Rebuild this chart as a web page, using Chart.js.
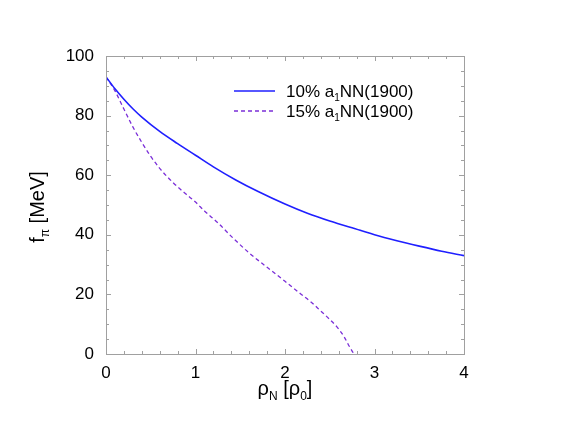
<!DOCTYPE html>
<html>
<head>
<meta charset="utf-8">
<script src="https://cdn.jsdelivr.net/npm/chart.js@4/dist/chart.umd.min.js"></script>
<style>
  body { margin: 0; background: #fff; }
  #wrap { width: 564px; height: 436px; }
</style>
</head>
<body>
<div id="wrap"><canvas id="chart" width="564" height="436"></canvas></div>
<script>
// f_pi vs nuclear density, two a1NN(1900) admixtures
const rho10 = [0, 0.1, 0.2, 0.3, 0.4, 0.6, 0.8, 1.0, 1.2, 1.45, 1.7, 2.0, 2.25, 2.5, 2.84, 3.0, 3.25, 3.5, 3.75, 4.0];
const fpi10 = [93, 89, 85.5, 82.3, 79.5, 74.7, 70.6, 66.7, 62.8, 58.4, 54.5, 50.3, 47.2, 44.6, 41.5, 40, 38, 36.2, 34.5, 33];

const rho15 = [0, 0.1, 0.2, 0.3, 0.4, 0.5, 0.6, 0.75, 0.9, 1.0, 1.1, 1.25, 1.42, 1.6, 1.8, 2.0, 2.17, 2.3, 2.39, 2.5, 2.58, 2.66, 2.72, 2.77];
const fpi15 = [93, 88.3, 82.2, 76.2, 71, 66.3, 62.3, 57.5, 53.5, 51, 48, 44, 38.9, 33.9, 29.1, 24.4, 20.3, 17.2, 14.7, 11.6, 9.1, 5.8, 2.5, 0];

const xTicks = [0, 1, 2, 3, 4];
const yTicks = [0, 20, 40, 60, 80, 100];
const legendLabels = ['10% a', '15% a'];

const FONT = '"Liberation Sans", Arial, Helvetica, sans-serif';

function pts(xs, ys) {
    return xs.map((x, i) => ({ x: x, y: ys[i] }));
}

// text with a subscript part: main, sub, rest
function drawSub(ctx, x, y, main, sub, rest, size) {
    ctx.font = size + 'px ' + FONT;
    ctx.fillText(main, x, y);
    x += ctx.measureText(main).width;
    ctx.font = Math.round(size * 0.6) + 'px ' + FONT;
    ctx.fillText(sub, x, y + size * 0.25);
    x += ctx.measureText(sub).width;
    ctx.font = size + 'px ' + FONT;
    ctx.fillText(rest, x, y);
    return x + ctx.measureText(rest).width;
}

function subWidth(ctx, main, sub, rest, size) {
    ctx.font = size + 'px ' + FONT;
    let w = ctx.measureText(main).width + ctx.measureText(rest).width;
    ctx.font = Math.round(size * 0.6) + 'px ' + FONT;
    return w + ctx.measureText(sub).width;
}

const framePlugin = {
    id: 'frame',
    afterDatasetsDraw(chart) {
        const ctx = chart.ctx;
        const a = chart.chartArea;
        const xs = chart.scales.x, ys = chart.scales.y;
        ctx.save();
        ctx.strokeStyle = '#a0a0a0';
        ctx.lineWidth = 1;
        ctx.strokeRect(a.left + 0.5, a.top + 0.5, a.right - a.left, a.bottom - a.top);
        ctx.beginPath();
        // x ticks, minor every 0.2
        for (let i = 0; i <= 20; i++) {
            const v = i * 0.2;
            const px = Math.round(xs.getPixelForValue(v)) + 0.5;
            const len = (i % 5 === 0) ? 5 : 3;
            ctx.moveTo(px, a.bottom); ctx.lineTo(px, a.bottom - len);
            ctx.moveTo(px, a.top); ctx.lineTo(px, a.top + len);
        }
        // y ticks, minor every 5
        for (let i = 0; i <= 20; i++) {
            const v = i * 5;
            const py = Math.round(ys.getPixelForValue(v)) + 0.5;
            const len = (i % 4 === 0) ? 5 : 3;
            ctx.moveTo(a.left, py); ctx.lineTo(a.left + len, py);
            ctx.moveTo(a.right, py); ctx.lineTo(a.right - len, py);
        }
        ctx.stroke();

        // legend
        const lx0 = 234, lx1 = 275, tx = 286;
        const rows = [91, 111];
        chart.data.datasets.forEach((ds, i) => {
            ctx.beginPath();
            ctx.strokeStyle = ds.borderColor;
            ctx.lineWidth = ds.borderWidth;
            ctx.setLineDash(ds.borderDash || []);
            ctx.moveTo(lx0, rows[i]); ctx.lineTo(lx1, rows[i]);
            ctx.stroke();
            ctx.setLineDash([]);
            ctx.fillStyle = '#000';
            ctx.textBaseline = 'alphabetic';
            ctx.textAlign = 'left';
            drawSub(ctx, tx, rows[i] + 6, legendLabels[i], '1', 'NN(1900)', 17);
        });

        // x axis title: rho_N [rho_0]
        ctx.fillStyle = '#000';
        ctx.textAlign = 'left';
        const size = 20;
        const w1 = subWidth(ctx, 'ρ', 'N', ' [', size);
        const w2 = subWidth(ctx, 'ρ', '0', ']', size);
        let x = (a.left + a.right) / 2 - (w1 + w2) / 2;
        x = drawSub(ctx, x, 395, 'ρ', 'N', ' [', size);
        drawSub(ctx, x, 395, 'ρ', '0', ']', size);

        // y axis title: f_pi [MeV]
        ctx.translate(44, (a.top + a.bottom) / 2 + 2);
        ctx.rotate(-Math.PI / 2);
        const wy = subWidth(ctx, 'f', 'π', ' [MeV]', size);
        drawSub(ctx, -wy / 2, 0, 'f', 'π', ' [MeV]', size);
        ctx.restore();
    }
};

new Chart(document.getElementById('chart'), {
    type: 'scatter',
    data: {
        datasets: [
            {
                data: pts(rho10, fpi10),
                showLine: true,
                borderColor: '#1f1fff',
                borderWidth: 1.6,
                pointRadius: 0,
                cubicInterpolationMode: 'monotone',
                fill: false
            },
            {
                data: pts(rho15, fpi15),
                showLine: true,
                borderColor: '#7b2fd8',
                borderWidth: 1.3,
                borderDash: [4, 3],
                pointRadius: 0,
                cubicInterpolationMode: 'monotone',
                fill: false
            }
        ]
    },
    options: {
        responsive: false,
        animation: false,
        layout: { padding: { left: 0, top: 56, right: 100, bottom: 0 } },
        plugins: { legend: { display: false }, tooltip: { enabled: false } },
        scales: {
            x: {
                type: 'linear',
                min: 0, max: 4,
                afterFit(s) { s.height = 82; },
                afterBuildTicks(s) { s.ticks = xTicks.map(v => ({ value: v })); },
                grid: { display: false },
                border: { display: false },
                ticks: { color: '#000', padding: 1, font: { family: FONT, size: 17 } }
            },
            y: {
                type: 'linear',
                min: 0, max: 100,
                afterFit(s) { s.width = 106; },
                afterBuildTicks(s) { s.ticks = yTicks.map(v => ({ value: v })); },
                grid: { display: false },
                border: { display: false },
                ticks: { color: '#000', padding: 4, font: { family: FONT, size: 17 } }
            }
        }
    },
    plugins: [framePlugin]
});
</script>
</body>
</html>
